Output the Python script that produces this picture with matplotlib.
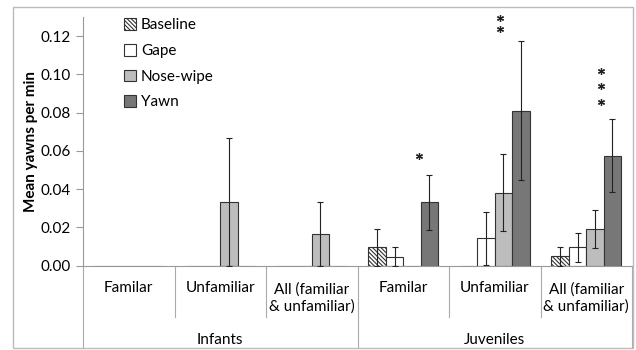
import numpy as np
import matplotlib.pyplot as plt
from matplotlib.patches import Rectangle

plt.rcParams['font.family'] = ['Lato', 'DejaVu Sans']
plt.rcParams['hatch.linewidth'] = 0.8
plt.rcParams['hatch.color'] = '#333333'

groups = ["Infants", "Juveniles"]
conditions = ["Familar", "Unfamiliar", "All (familiar\n& unfamiliar)"] * 2
series = ["Baseline", "Gape", "Nose-wipe", "Yawn"]

# means per category (Infants x3, Juveniles x3)
baseline = [0, 0, 0, 0.0096, 0, 0.0049]
gape = [0, 0, 0, 0.0048, 0.0143, 0.0096]
nose_wipe = [0, 0.0333, 0.0167, 0, 0.0381, 0.0192]
yawn = [0, 0, 0, 0.0331, 0.0810, 0.0575]

baseline_err = [0, 0, 0, 0.0096, 0, 0.0048]
gape_err = [0, 0, 0, 0.0048, 0.0140, 0.0076]
nose_wipe_err = [0, 0.0333, 0.0167, 0, 0.0201, 0.0101]
yawn_err = [0, 0, 0, 0.0145, 0.0363, 0.0190]

# significance stars: (category index, y of each star)
stars = [(3, [0.0575]), (4, [0.1296, 0.1235]), (5, [0.1020, 0.0938, 0.0856])]

values = [baseline, gape, nose_wipe, yawn]
errors = [baseline_err, gape_err, nose_wipe_err, yawn_err]
colors = ["white", "white", "#bdbdbd", "#777777"]
hatches = ["\\\\\\\\\\\\\\\\", None, None, None]

fig = plt.figure(figsize=(6.36, 3.5), dpi=100)
ax = fig.add_axes([83 / 636, 1 - 265.7 / 350, 549 / 636, 248.7 / 350])

n = len(conditions)
centers = np.arange(n) + 0.5
w = 0.19
for k, (vals, errs) in enumerate(zip(values, errors)):
    xs = centers + (k - 1.5) * w
    ax.bar(xs, vals, width=w, color=colors[k], edgecolor="#333333", linewidth=0.8,
           hatch=hatches[k], label=series[k], zorder=2)
    for x, v, e in zip(xs, vals, errs):
        if e > 0:
            ax.errorbar(x, v, yerr=e, color="#222222", elinewidth=0.8, capsize=2.5,
                        capthick=0.8, zorder=3)

star_dx = {3: 0.17, 4: 0.06, 5: 0.16}
for idx, ys in stars:
    ax.plot([centers[idx] + star_dx[idx]] * len(ys), ys, linestyle="none",
            marker=(6, 2, 0), markersize=5, markeredgewidth=0.9, color="#222222",
            clip_on=False, zorder=4)

ax.set_xlim(0, n)
ax.set_ylim(0, 0.13)
ax.set_yticks(np.arange(0, 0.121, 0.02))
ax.set_yticklabels([f"{t:.2f}" for t in np.arange(0, 0.121, 0.02)], fontsize=11)
ax.set_xticks([])
ax.tick_params(axis="y", length=5, color="#999999", width=0.8)
for s in ["top", "right"]:
    ax.spines[s].set_visible(False)
for s in ["left", "bottom"]:
    ax.spines[s].set_color("#999999")
    ax.spines[s].set_linewidth(0.8)
ax.set_ylabel("Mean yawns per min", fontsize=11, fontweight="bold", labelpad=2)

# category table below the axis
tr = ax.get_xaxis_transform()
for i in range(n + 1):
    y0 = -0.331 if i % 3 == 0 else -0.205
    ax.plot([i, i], [0, y0], transform=tr, color="#aaaaaa", lw=0.8, clip_on=False)
for i, lab in enumerate(conditions):
    ax.text(centers[i], -0.09 if "\n" not in lab else -0.13, lab, transform=tr,
            ha="center", va="center", fontsize=11, linespacing=1.3)
for g, lab in enumerate(groups):
    ax.text(g * 3 + 1.5, -0.30, lab, transform=tr, ha="center", va="center", fontsize=11)

ax.legend(loc="upper left", bbox_to_anchor=(0.05, 1.05), frameon=False, fontsize=11,
          handlelength=0.8, handleheight=0.8, handletextpad=0.3, labelspacing=0.75)

fig.add_artist(Rectangle((13 / 636, 2 / 350), 620 / 636, 341 / 350, transform=fig.transFigure,
                         fill=False, edgecolor="#bbbbbb", lw=1))

fig.savefig("out.png", dpi=100)
